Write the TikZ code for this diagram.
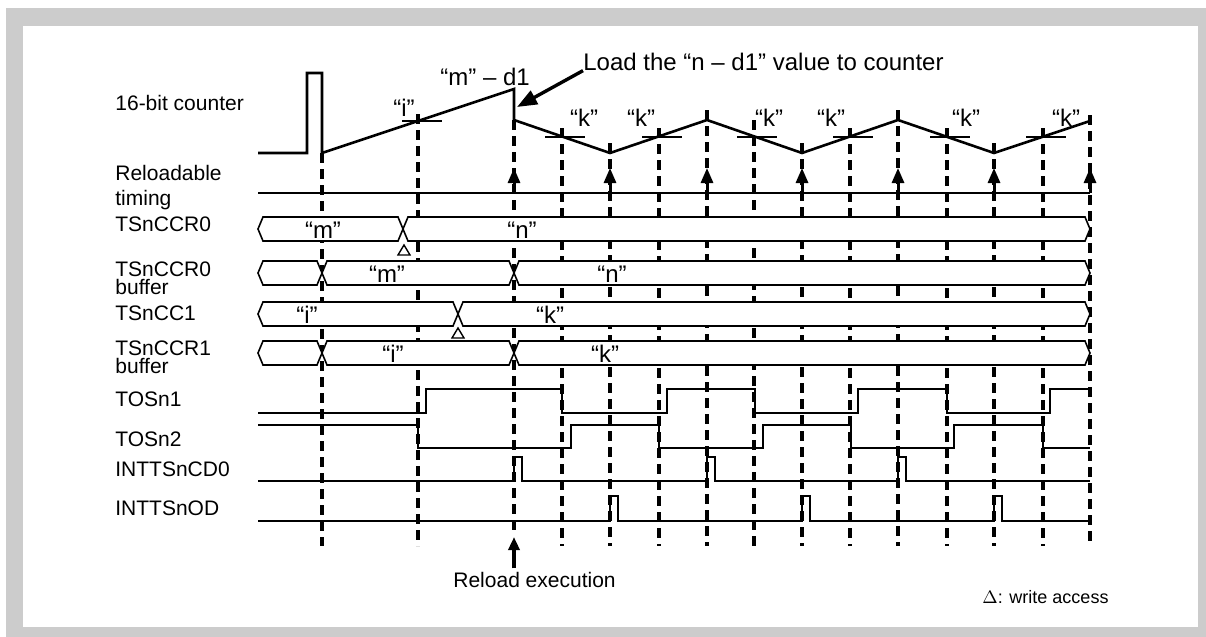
\documentclass[tikz,border=0pt]{standalone}
\usepackage{fontspec}
\setmainfont{Liberation Sans}
\usepackage{tikz}
\usetikzlibrary{arrows.meta}

\begin{document}
\begin{tikzpicture}[x=0.5pt,y=-0.5pt,
  sig/.style={line width=1.3pt,line join=miter},
  bus/.style={draw,fill=white,line width=0.8pt},
  guide/.style={line width=1.7pt,dash pattern=on 5pt off 3pt},
  tickln/.style={line width=0.7pt},
  lbl/.style={anchor=base west,align=left,inner sep=0pt,font=\fontsize{10.5}{12.5}\selectfont},
  lbltight/.style={lbl,font=\fontsize{10.5}{9}\selectfont},
  val/.style={inner sep=0pt,font=\fontsize{12}{14}\selectfont},
  note/.style={anchor=base west,inner sep=0pt,font=\fontsize{12}{14}\selectfont},
  up/.style={-{Triangle[length=7.5pt,width=6pt]},line width=1.5pt},
  arr/.style={-{Triangle[length=10pt,width=7.5pt]},line width=1.7pt}]
  \useasboundingbox (0,0) rectangle (1206,637);
  \fill[black!20] (6,8) rectangle (1206,637);
  \fill[white] (23,26) rectangle (1198,627);

  % signal names
  \node[lbl] (cntlbl)  at (115,110)   {16-bit counter};
  \node[lbl] (rldlbl)  at (115,205)   {Reloadable\\timing};
  \node[lbl] (c0lbl)   at (115,231.5) {TSnCCR0};
  \node[lbltight] (c0blbl) at (115,294.5) {TSnCCR0\\buffer};
  \node[lbl] (c1lbl)   at (115,320)   {TSnCC1};
  \node[lbltight] (c1blbl) at (115,373) {TSnCCR1\\buffer};
  \node[lbl] (o1lbl)   at (115,406.5) {TOSn1};
  \node[lbl] (o2lbl)   at (115,446.5) {TOSn2};
  \node[lbl] (cdlbl)   at (115,476.5) {INTTSnCD0};
  \node[lbl] (odlbl)   at (115,515)   {INTTSnOD};

  % timing guides
  \foreach \x/\t in {322/153,418/114,562/128,610/143,659/128,707/110,754/120,802/143,
                     850/128,898/110,947/128,994/143,1043/128,1090/115}
    \draw[guide] (\x,\t) -- (\x,546);
  \draw[guide] (514,120) -- (514,533);

  % counter
  \draw[sig] (258,153) -- (307,153) -- (307,73) -- (322,73) -- (322,153) -- (514,89)
    -- (514,120) -- (610,153) -- (707,120) -- (802,153) -- (898,120) -- (994,153) -- (1090,121);
  \draw[tickln] (402,121) -- (442,121);
  \foreach \x in {562,659,754,850,947,1043}
    \draw[tickln] (\x-17,137) -- (\x+23,137);
  \node[val] (vi) at (404,107.5) {“i”};
  \foreach \x [count=\i] in {584,641,769,831,966,1066}
    \node[val] (vk\i) at (\x,118) {“k”};
  \node[note] (mtxt) at (440,85) {“m” – d1};
  \node[note] (loadtxt) at (583,70) {Load the “n – d1” value to counter};
  \coordinate (ldtip) at (517,107);
  \draw[arr] (loadtxt.south west) -- (ldtip);

  % reloadable timing
  \draw[sig] (258,193) -- (1090,193);
  \foreach \x in {514,610,707,802,898,994,1090}
    \draw[up] (\x,193) -- (\x,168);

  % registers
  \foreach \yc/\xa/\xb in {229/258/403,229/403/1090,273/258/322,273/322/514,273/514/1090,
                           314/258/458,314/458/1090,353/258/322,353/322/514,353/514/1090}
    \draw[bus] (\xa,\yc) -- (\xa+5,\yc-12) -- (\xb-5,\yc-12) -- (\xb,\yc)
      -- (\xb-5,\yc+12) -- (\xa+5,\yc+12) -- cycle;
  \node[val] (r0m) at (323,230) {“m”};
  \node[val] (r0n) at (522,230) {“n”};
  \node[val] (b0m) at (387,274) {“m”};
  \node[val] (b0n) at (612,274) {“n”};
  \node[val] (r1i) at (307,315) {“i”};
  \node[val] (r1k) at (550,315) {“k”};
  \node[val] (b1i) at (393,354) {“i”};
  \node[val] (b1k) at (605,354) {“k”};
  \draw[tickln] (404,245) -- (398,255) -- (410,255) -- cycle;
  \draw[tickln] (458,328) -- (452,338) -- (464,338) -- cycle;

  % outputs
  \draw[sig] (258,413) -- (426,413) -- (426,389) -- (562,389) -- (562,413) -- (667,413)
    -- (667,389) -- (755,389) -- (755,413) -- (858,413) -- (858,389) -- (947,389)
    -- (947,413) -- (1050,413) -- (1050,389) -- (1090,389);
  \draw[sig] (258,425) -- (418,425) -- (418,448) -- (571,448) -- (571,425) -- (659,425)
    -- (659,448) -- (763,448) -- (763,425) -- (851,425) -- (851,448) -- (954,448)
    -- (954,425) -- (1043,425) -- (1043,448) -- (1090,448);

  % interrupts
  \draw[sig] (258,481) \foreach \p in {514,707,898} { -- (\p,481) -- (\p,457) -- (\p+8,457) -- (\p+8,481) } -- (1090,481);
  \draw[sig] (258,521) \foreach \p in {610,802,994} { -- (\p,521) -- (\p,496) -- (\p+8,496) -- (\p+8,521) } -- (1090,521);

  \node[lbl] (reloadtxt) at (453,587) {Reload execution};
  \coordinate (rtip) at (514,537);
  \draw[-{Triangle[length=6.5pt,width=5.5pt]},line width=1.7pt] (rtip |- reloadtxt.north) ++(0,-3) -- (rtip);
  \node[anchor=base west,inner sep=0pt,font=\fontsize{9}{11}\selectfont] (wrtxt) at (982,603) {$\Delta$: write access};
\end{tikzpicture}
\end{document}
